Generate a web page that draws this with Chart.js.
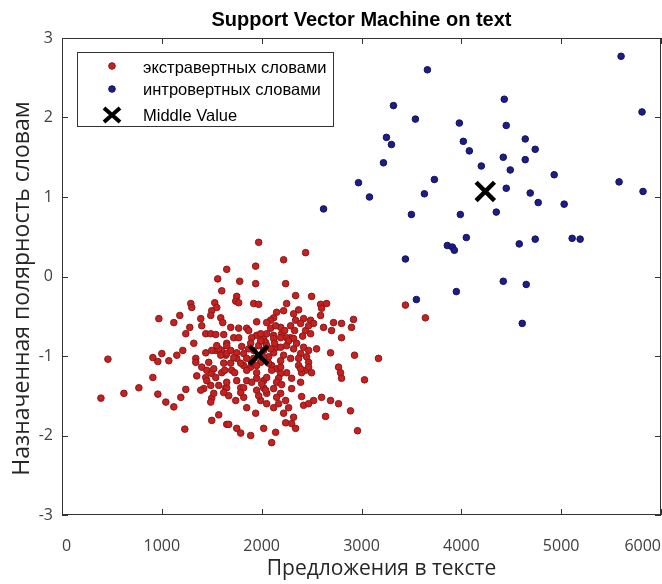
<!DOCTYPE html>
<html>
<head>
<meta charset="utf-8">
<script src="https://cdn.jsdelivr.net/npm/chart.js@4.4.0/dist/chart.umd.min.js"></script>
<style>
  html, body { margin: 0; padding: 0; background: #fff; }
  #wrap { width: 662px; height: 584px; position: relative; }
</style>
</head>
<body>
<div id="wrap"><canvas id="chart"></canvas></div>
<script>
// extraverted words (red)
const extrX = [
  1650,1560,1600,1290,1300,1530,1500,1550,970,1180,1120,1390,1400,1490,1590,1610,1280,1240,1440,1490,1540,1620,
  1970,2220,2440,1940,1780,1940,2240,2340,2500,1750,1740,1770,1920,1970,2250,2590,2650,2600,2370,2150,2220,2120,2090,2320,2340,2590,2420,2490,2520,1950,2720,2800,2920,2900,1690,1770,1850,2620,2700,2440,2490,2800,1950,2020,2120,2200,2290,
  1320,460,910,960,1000,1070,1150,1210,1340,1340,1440,1540,1600,1640,1400,1450,1500,1440,1540,1600,910,390,620,770,960,1240,1190,1040,1120,1420,1490,1570,1640,1500,1490,1570,1500,1650,1230,
  2050,2190,2250,2320,1720,1650,2420,2390,2550,2690,2930,3170,1820,1750,1690,1820,1890,2100,2150,2250,2190,2370,2440,2500,2400,2470,2770,2790,2800,3030,1750,1790,1850,1950,2020,2050,2170,2300,1650,1670,1740,1820,1850,1950,2020,2050,1990,2050,2120,2170,2190,2240,2400,2420,2470,2520,2600,2690,2770,2890,2270,2220,2320,1940,2240,2300,2340,2640,1670,1750,1790,1890,2020,2140,2100,2960,
  3440,3640,
  1770,1900,1990,2090,2190,2290,2390,2470,1500,1570,1650,1650,1750,1890,1970,2040,2120,2150,2250,2320,2470,1470,1520,1620,1700,1790,1850,1900,2100,2190,2390,2470,1350,1450,1650,1820,1900,2000,2300,2390,1390,1520,1620,1790,1970,2040,2150,
  2020,2070,1920,1990,2050,1870,2220,2290,2120,2190,
  1550,1590,1690,1720,1800,1850,1920,1950,2020,2070,2090,2130,2190,2270,2350,2230,2330,2410,2140,2050,1990,1870,2150,2120,2200,1950,1730,1630,2370,2450
];
const extrY = [
  0.09,-0.03,-0.18,-0.34,-0.39,-0.33,-0.43,-0.39,-0.53,-0.49,-0.58,-0.53,-0.62,-0.49,-0.52,-0.58,-0.64,-0.72,-0.72,-0.72,-0.73,-0.73,
  0.43,0.21,0.30,0.13,-0.06,-0.09,-0.09,-0.24,-0.25,-0.25,-0.31,-0.33,-0.34,-0.35,-0.34,-0.35,-0.34,-0.40,-0.42,-0.45,-0.43,-0.52,-0.55,-0.47,-0.55,-0.49,-0.53,-0.55,-0.59,-0.57,-0.58,-0.59,-0.54,-0.64,-0.64,-0.65,-0.65,-0.64,-0.68,-0.68,-0.72,-0.77,-0.74,-0.77,-0.74,-0.72,-0.77,
  -0.84,-1.04,-1.02,-1.07,-0.97,-1.06,-0.99,-0.93,-1.03,-1.08,-0.96,-0.93,-0.93,-0.99,-1.14,-1.18,-1.22,-1.27,-1.27,-1.21,-1.27,-1.53,-1.47,-1.40,-1.48,-1.42,-1.52,-1.58,-1.64,-1.41,-1.37,-1.37,-1.40,-1.53,-1.58,-1.74,-1.81,-1.86,-1.92,
  -0.72,-0.77,-0.77,-0.78,-0.77,-0.84,-0.89,-0.97,-0.91,-0.96,-0.99,-1.03,-0.97,-1.03,-1.09,-1.12,-1.14,-1.12,-1.16,-1.21,-1.22,-1.12,-1.18,-1.21,-1.21,-1.08,-1.14,-1.21,-1.28,-1.30,-1.31,-1.40,-1.31,-1.28,-1.31,-1.27,-1.28,-1.41,-1.40,-1.50,-1.56,-1.52,-1.65,-1.43,-1.40,-1.47,-1.56,-1.60,-1.65,-1.60,-1.47,-1.56,-1.51,-1.62,-1.60,-1.56,-1.52,-1.56,-1.60,-1.69,-1.65,-1.72,-1.77,-1.72,-1.84,-1.85,-1.91,-1.76,-1.86,-1.91,-1.97,-2.00,-1.91,-1.96,-2.09,-1.94,
  -0.36,-0.52,
  -0.77,-0.77,-0.72,-0.65,-0.64,-0.62,-0.59,-0.62,-0.93,-0.91,-0.87,-0.97,-0.96,-0.84,-0.87,-0.83,-0.78,-0.89,-0.87,-0.91,-0.93,-1.08,-1.16,-1.09,-1.18,-1.09,-1.18,-1.09,-1.18,-1.14,-1.16,-1.14,-1.25,-1.31,-1.33,-1.40,-1.33,-1.35,-1.28,-1.33,-1.43,-1.47,-1.46,-1.46,-1.50,-1.43,-1.52,
  -0.93,-1.01,-1.03,-1.08,-0.87,-0.91,-0.99,-1.03,-0.96,-1.06,
  -0.87,-0.99,-0.93,-1.02,-0.88,-1.03,-0.93,-1.12,-1.02,-1.09,-0.91,-0.84,-0.89,-0.81,-0.84,-0.68,-0.68,-0.75,-0.62,-0.58,-0.81,-0.68,-1.33,-1.41,-1.36,-1.21,-1.21,-1.18,-1.03,-1.01
];

// introverted words (blue)
const introX = [5600,3660,4430,3320,5810,3540,3980,4450,3250,3300,4020,4640,4080,4740,4420,4640,3220,4200,4490,4930,2970,3730,5580,4450,3630,3080,4690,5820,4770,5030,2620,3500,3990,4350,4050,3860,3910,3930,4580,4740,5110,5190,3440,4420,4650,3950,3550,4610];
const introY = [2.77,2.60,2.23,2.15,2.07,1.98,1.93,1.90,1.75,1.66,1.70,1.73,1.58,1.60,1.50,1.47,1.43,1.39,1.34,1.28,1.18,1.22,1.19,1.11,1.04,1.00,1.05,1.07,0.93,0.91,0.85,0.78,0.78,0.81,0.49,0.39,0.37,0.33,0.41,0.47,0.48,0.47,0.22,-0.06,-0.10,-0.19,-0.29,-0.59];

// cluster centres
const middleX = [1970, 4240];
const middleY = [-0.99, 1.07];

const xTicks = [0, 1000, 2000, 3000, 4000, 5000, 6000];
const yTicks = [-3, -2, -1, 0, 1, 2, 3];

const legendLabels = ['экстравертных словами', 'интровертных словами', 'Middle Value'];
const titleText = 'Support Vector Machine on text';
const xTitle = 'Предложения в тексте';
const yTitle = 'Назначенная полярность словам';

const RED_FILL = '#c81f1f', RED_EDGE = '#841b1b';
const BLUE_FILL = '#1c1c8c', BLUE_EDGE = '#141452';
const AXIS = '#333333';

const toPoints = (xs, ys) => xs.map((x, i) => ({ x: x, y: ys[i] }));

// box round the plot + inward ticks, matlab style
const boxPlugin = {
  id: 'box',
  afterDraw(chart) {
    const { ctx, chartArea: a, scales: { x, y } } = chart;
    ctx.save();
    ctx.strokeStyle = AXIS;
    ctx.lineWidth = 1;
    ctx.strokeRect(a.left + 0.5, a.top + 0.5, a.right - a.left - 1, a.bottom - a.top - 1);
    ctx.beginPath();
    xTicks.forEach(v => {
      const px = Math.round(x.getPixelForValue(v)) + 0.5;
      ctx.moveTo(px, a.bottom); ctx.lineTo(px, a.bottom - 6);
      ctx.moveTo(px, a.top); ctx.lineTo(px, a.top + 6);
    });
    yTicks.forEach(v => {
      const py = Math.round(y.getPixelForValue(v)) + 0.5;
      ctx.moveTo(a.left, py); ctx.lineTo(a.left + 6, py);
      ctx.moveTo(a.right, py); ctx.lineTo(a.right - 6, py);
    });
    ctx.stroke();

    // axis titles (sit a bit right / below the plot centre in the original)
    ctx.fillStyle = '#262626';
    ctx.font = '21px "Open Sans"';
    ctx.textAlign = 'center';
    ctx.textBaseline = 'alphabetic';
    ctx.fillText(xTitle, (a.left + a.right) / 2 + 20, 575);
    ctx.save();
    ctx.translate(29, (a.top + a.bottom) / 2 + 12);
    ctx.rotate(-Math.PI / 2);
    ctx.font = '23px "Open Sans"';
    ctx.fillText(yTitle, 0, 0);
    ctx.restore();
    ctx.restore();
  }
};

// legend box in the upper left corner of the plot
const legendPlugin = {
  id: 'boxLegend',
  afterDraw(chart) {
    const { ctx, chartArea: a } = chart;
    const bx = a.left + 15, by = a.top + 14, bw = 256, bh = 74;
    ctx.save();
    ctx.fillStyle = '#fff';
    ctx.fillRect(bx, by, bw, bh);
    ctx.strokeStyle = AXIS;
    ctx.lineWidth = 1;
    ctx.strokeRect(bx + 0.5, by + 0.5, bw, bh);

    const mx = bx + 35;
    const rows = [by + 14, by + 37, by + 63];
    const base = [by + 20.5, by + 43, by + 68.5];

    [[RED_FILL, RED_EDGE], [BLUE_FILL, BLUE_EDGE]].forEach((c, i) => {
      ctx.beginPath();
      ctx.arc(mx, rows[i], 3.3, 0, Math.PI * 2);
      ctx.fillStyle = c[0];
      ctx.fill();
      ctx.strokeStyle = c[1];
      ctx.stroke();
    });
    ctx.beginPath();
    ctx.strokeStyle = '#000';
    ctx.lineWidth = 4;
    ctx.moveTo(mx - 8, rows[2] - 7); ctx.lineTo(mx + 8, rows[2] + 7);
    ctx.moveTo(mx - 8, rows[2] + 7); ctx.lineTo(mx + 8, rows[2] - 7);
    ctx.stroke();

    ctx.fillStyle = '#000';
    ctx.font = '16.5px "Liberation Sans", Arial, sans-serif';
    ctx.textAlign = 'left';
    ctx.textBaseline = 'alphabetic';
    legendLabels.forEach((t, i) => ctx.fillText(t, bx + 66, base[i]));
    ctx.restore();
  }
};

new Chart(document.getElementById('chart'), {
  type: 'scatter',
  data: {
    datasets: [
      {
        label: legendLabels[0],
        data: toPoints(extrX, extrY),
        order: 2,
        pointRadius: 3.3,
        backgroundColor: RED_FILL,
        borderColor: RED_EDGE,
        borderWidth: 1
      },
      {
        label: legendLabels[1],
        data: toPoints(introX, introY),
        order: 1,
        pointRadius: 3.3,
        backgroundColor: BLUE_FILL,
        borderColor: BLUE_EDGE,
        borderWidth: 1
      },
      {
        label: legendLabels[2],
        data: toPoints(middleX, middleY),
        order: 0, // on top of the clouds
        pointStyle: 'crossRot',
        pointRadius: 13,
        borderColor: '#000',
        borderWidth: 4.5
      }
    ]
  },
  options: {
    responsive: true,
    maintainAspectRatio: false,
    animation: false,
    // big X markers would otherwise pad the plot on every side
    layout: { autoPadding: false, padding: { left: 0, right: 1, top: 0, bottom: 0 } },
    plugins: {
      legend: { display: false },
      tooltip: { enabled: false },
      title: {
        display: true,
        text: titleText,
        fullSize: false,
        color: '#000',
        font: { family: '"Liberation Sans", Arial, sans-serif', size: 20, weight: 'bold', lineHeight: 1 },
        padding: { top: 10, bottom: 8 }
      }
    },
    scales: {
      x: {
        type: 'linear',
        min: 0,
        max: 6000,
        afterBuildTicks: s => { s.ticks = xTicks.map(v => ({ value: v })); },
        afterFit: s => { s.height = 69; s.paddingLeft = 0; s.paddingRight = 0; },
        // invisible tick length pushes labels down without side padding
        grid: { display: false, drawTicks: true, tickLength: 22 },
        border: { display: false },
        ticks: {
          align: 'inner',
          padding: 0,
          color: '#404040',
          font: { family: '"Open Sans"', size: 16 },
          callback: v => String(v)
        }
      },
      y: {
        type: 'linear',
        min: -3,
        max: 3,
        afterBuildTicks: s => { s.ticks = yTicks.map(v => ({ value: v })); },
        afterFit: s => { s.width = 62; },
        grid: { display: false, drawTicks: false },
        border: { display: false },
        ticks: {
          padding: 9,
          color: '#404040',
          font: { family: '"Open Sans"', size: 16 },
          callback: v => String(v)
        }
      }
    }
  },
  plugins: [boxPlugin, legendPlugin]
});
</script>
</body>
</html>
